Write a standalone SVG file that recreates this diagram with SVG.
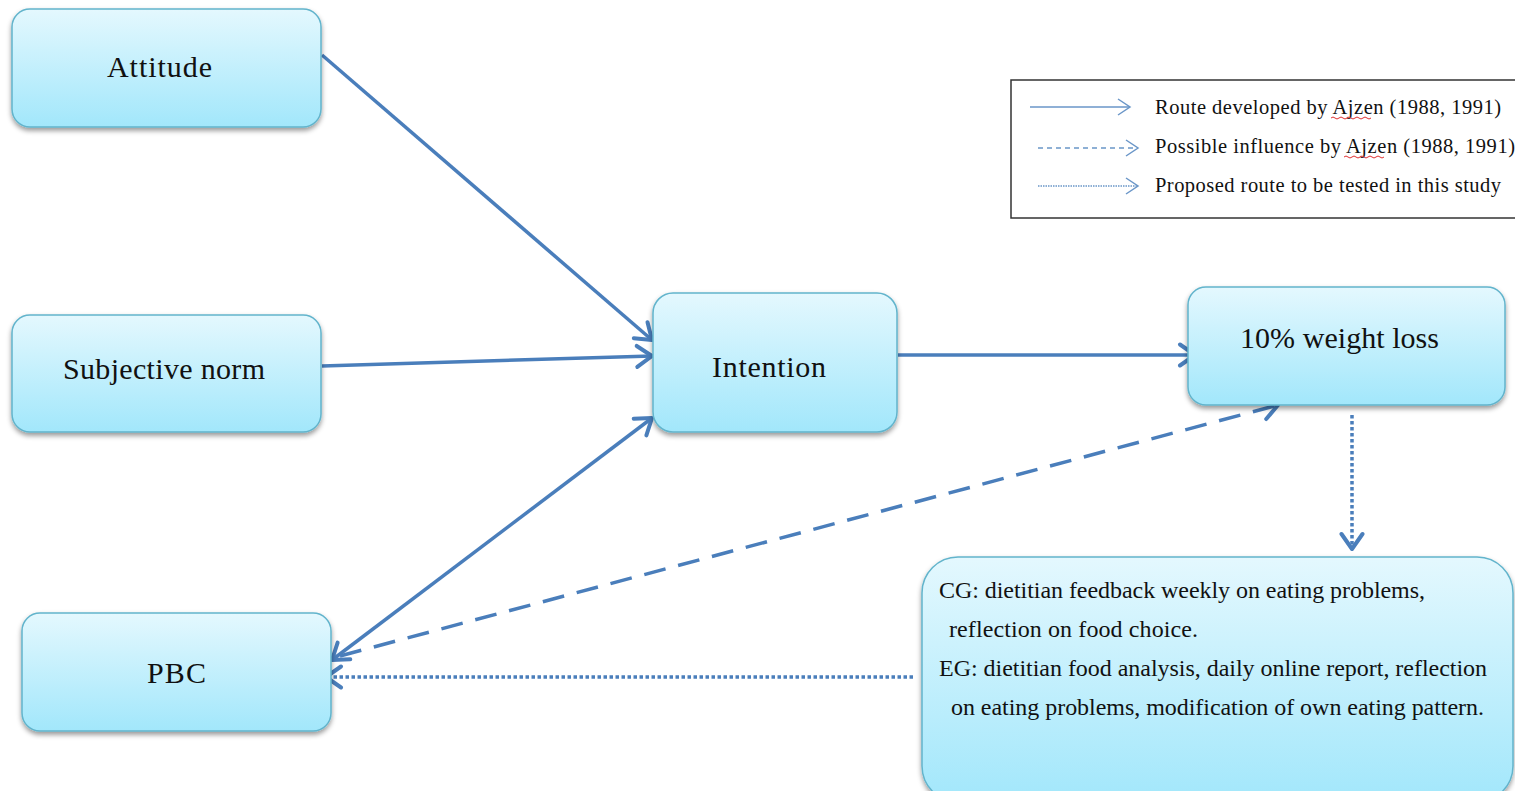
<svg xmlns="http://www.w3.org/2000/svg" width="1515" height="791" viewBox="0 0 1515 791">
<defs>
<linearGradient id="g" x1="0" y1="0" x2="0" y2="1">
<stop offset="0" stop-color="#e4f8fe"/>
<stop offset="1" stop-color="#a2e7fb"/>
</linearGradient>
<filter id="sh" x="-10%" y="-10%" width="120%" height="130%">
<feDropShadow dx="0" dy="3" stdDeviation="2.5" flood-color="#000" flood-opacity="0.4"/>
</filter>
<marker id="arr" markerUnits="userSpaceOnUse" markerWidth="26" markerHeight="26" viewBox="0 0 26 26" refX="20" refY="13" orient="auto-start-reverse">
<path d="M5,2.5 L20,13 L5,23.5" fill="none" stroke="#4a7ebb" stroke-width="4" stroke-dasharray="none" stroke-linecap="round" stroke-linejoin="round"/>
</marker>
<marker id="arrL" markerUnits="userSpaceOnUse" markerWidth="20" markerHeight="20" viewBox="0 0 20 20" refX="16" refY="10" orient="auto">
<path d="M4,2 L16,10 L4,18" fill="none" stroke="#6a96c8" stroke-width="1.5" stroke-dasharray="none"/>
</marker>
</defs>
<style>
.box{fill:url(#g);stroke:#62b4cc;stroke-width:1.5;filter:url(#sh)}
.lbl{font-family:"Liberation Serif","Times New Roman",serif;font-size:30px;fill:#111}
.txt{font-family:"Liberation Serif","Times New Roman",serif;font-size:24px;fill:#111}
.leg{font-family:"Liberation Serif","Times New Roman",serif;font-size:20.5px;fill:#111}
.c{fill:none;stroke:#4a7ebb;stroke-width:3.5}
.l{fill:none;stroke:#6a96c8;stroke-width:1.5}
</style>
<rect width="1515" height="791" fill="#fff"/>

<g id="connectors">
<line class="c" x1="322" y1="55" x2="652" y2="340" marker-end="url(#arr)"/>
<line class="c" x1="322" y1="366" x2="652" y2="356" marker-end="url(#arr)"/>
<line class="c" x1="332" y1="660" x2="652" y2="418" marker-start="url(#arr)" marker-end="url(#arr)"/>
<line class="c" x1="898" y1="355" x2="1195" y2="355" marker-end="url(#arr)"/>
<line class="c" x1="340" y1="656" x2="1278" y2="405" stroke-dasharray="22 13" stroke-width="4" marker-end="url(#arr)"/>
<line class="c" x1="1352" y1="415" x2="1352" y2="549" stroke-dasharray="3.5 2.5" stroke-width="4" marker-end="url(#arr)"/>
<line class="c" x1="913" y1="677" x2="326" y2="677" stroke-dasharray="3.5 2.5" stroke-width="4" marker-end="url(#arr)"/>
</g>

<g id="attitude">
<rect class="box" x="12" y="9" width="309" height="118" rx="18"/>
<text class="lbl" x="107" y="77" textLength="105" lengthAdjust="spacing">Attitude</text>
</g>
<g id="subjective-norm">
<rect class="box" x="12" y="315" width="309" height="117" rx="18"/>
<text class="lbl" x="63" y="379" textLength="202" lengthAdjust="spacing">Subjective norm</text>
</g>
<g id="pbc">
<rect class="box" x="22" y="613" width="309" height="118" rx="18"/>
<text class="lbl" x="147" y="683" textLength="59" lengthAdjust="spacing">PBC</text>
</g>
<g id="intention">
<rect class="box" x="653" y="293" width="244" height="139" rx="20"/>
<text class="lbl" x="712" y="377" textLength="114" lengthAdjust="spacing">Intention</text>
</g>
<g id="weight-loss">
<rect class="box" x="1188" y="287" width="317" height="118" rx="18"/>
<text class="lbl" x="1240" y="348" textLength="199" lengthAdjust="spacing">10% weight loss</text>
</g>
<g id="intervention">
<rect class="box" x="922" y="557" width="591" height="245" rx="36"/>
<text class="txt" x="939" y="598" textLength="486" lengthAdjust="spacing">CG: dietitian feedback weekly on eating problems,</text>
<text class="txt" x="949" y="637" textLength="249" lengthAdjust="spacing">reflection on food choice.</text>
<text class="txt" x="939" y="676" textLength="548" lengthAdjust="spacing">EG: dietitian food analysis, daily online report, reflection</text>
<text class="txt" x="951" y="715" textLength="533" lengthAdjust="spacing">on eating problems, modification of own eating pattern.</text>
</g>

<g id="legend">
<rect x="1011" y="80" width="510" height="138" fill="#fff" stroke="#333" stroke-width="1.5"/>
<line class="l" x1="1030" y1="107" x2="1130" y2="107" marker-end="url(#arrL)"/>
<line class="l" x1="1038" y1="148" x2="1138" y2="148" stroke-dasharray="5 4" marker-end="url(#arrL)"/>
<line class="l" x1="1038" y1="186" x2="1138" y2="186" stroke-dasharray="1.5 1" marker-end="url(#arrL)"/>
<text class="leg" x="1155" y="114" textLength="346" lengthAdjust="spacing">Route developed by Ajzen (1988, 1991)</text>
<text class="leg" x="1155" y="153" textLength="360" lengthAdjust="spacing">Possible  influence by Ajzen (1988, 1991)</text>
<text class="leg" x="1155" y="192" textLength="346" lengthAdjust="spacing">Proposed route to be tested in this study</text>
<path d="M1331,118 q2,-2 4,0 t4,0 t4,0 t4,0 t4,0 t4,0 t4,0 t4,0 t4,0 t4,0" fill="none" stroke="#e03030" stroke-width="1"/>
<path d="M1344,157 q2,-2 4,0 t4,0 t4,0 t4,0 t4,0 t4,0 t4,0 t4,0 t4,0 t4,0" fill="none" stroke="#e03030" stroke-width="1"/>
</g>
</svg>
